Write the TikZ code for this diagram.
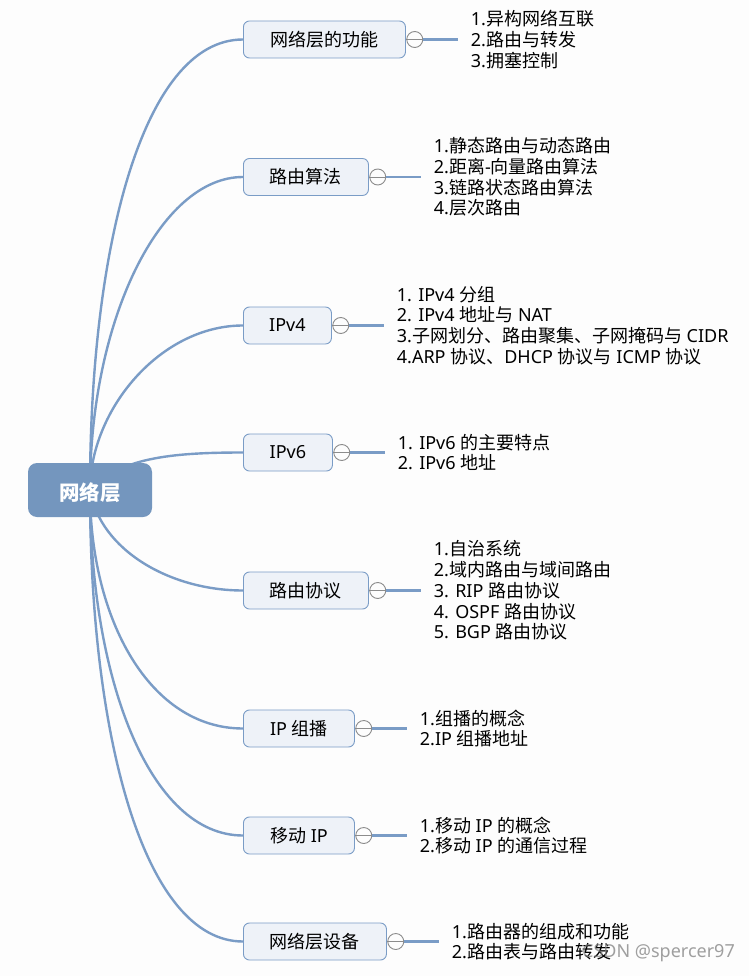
\documentclass[tikz,border=0pt]{standalone}
\usepackage{fontspec}
\setmainfont{Noto Sans CJK SC}
\newfontfamily\enfont{Noto Sans}
\newcommand{\en}[1]{{\enfont #1}}
\usetikzlibrary{positioning,backgrounds}
\definecolor{linkblue}{HTML}{7A9CC6}
\definecolor{rootblue}{HTML}{7496BE}
\definecolor{boxfill}{HTML}{EEF2F8}
\definecolor{paper}{HTML}{FDFDFD}
\definecolor{knob}{HTML}{8C8C8C}
\tikzset{
  topic/.style={draw=linkblue,fill=boxfill,rounded corners=6pt,line width=0.9pt,anchor=west,
    minimum height=37pt,inner sep=0pt,font=\fontsize{18}{20.7}\selectfont},
  knobc/.style={circle,draw=knob,fill=paper,line width=0.9pt,minimum size=16pt,inner sep=0pt,right=0.4pt of #1},
  leaf/.style={align=left,inner xsep=12.5pt,inner ysep=0pt,font=\fontsize{18}{20.7}\selectfont,right=35pt of #1},
  link/.style={linkblue,line width=2.4pt},
  stub/.style={linkblue,line width=2.6pt},
}
\begin{document}
\begin{tikzpicture}[x=1pt,y=-1pt]
\useasboundingbox (0,0) rectangle (749,976);

%topics
\node[topic,minimum width=162pt] (b1) at (243,39.5) {网络层的功能};
\node[topic,minimum width=125pt] (b2) at (243,177) {路由算法};
\node[topic,minimum width=88pt] (b3) at (243,325.5) {\en{IPv4}};
\node[topic,minimum width=89pt] (b4) at (243,452.5) {\en{IPv6}};
\node[topic,minimum width=125pt] (b5) at (243,590.5) {路由协议};
\node[topic,minimum width=111pt] (b6) at (243,728.5) {\en{IP }组播};
\node[topic,minimum width=111pt] (b7) at (243,835.5) {移动\en{ IP}};
\node[topic,minimum width=143pt] (b8) at (243,941.5) {网络层设备};

\node[knobc=b1] (k1) {};
\node[knobc=b2] (k2) {};
\node[knobc=b3] (k3) {};
\node[knobc=b4] (k4) {};
\node[knobc=b5] (k5) {};
\node[knobc=b6] (k6) {};
\node[knobc=b7] (k7) {};
\node[knobc=b8] (k8) {};

%leaves
\node[leaf=k1] (l1) {\en{1.}异构网络互联\\\en{2.}路由与转发\\\en{3.}拥塞控制};
\node[leaf=k2] (l2) {\en{1.}静态路由与动态路由\\\en{2.}距离\en{-}向量路由算法\\\en{3.}链路状态路由算法\\\en{4.}层次路由};
\node[leaf=k3] (l3) {\en{1. IPv4 }分组\\\en{2. IPv4 }地址与\en{ NAT}\\\en{3.}子网划分、路由聚集、子网掩码与\en{ CIDR}\\\en{4.ARP }协议、\en{DHCP }协议与\en{ ICMP }协议};
\node[leaf=k4] (l4) {\en{1. IPv6 }的主要特点\\\en{2. IPv6 }地址};
\node[leaf=k5] (l5) {\en{1.}自治系统\\\en{2.}域内路由与域间路由\\\en{3. RIP }路由协议\\\en{4. OSPF }路由协议\\\en{5. BGP }路由协议};
\node[leaf=k6] (l6) {\en{1.}组播的概念\\\en{2.IP }组播地址};
\node[leaf=k7] (l7) {\en{1.}移动\en{ IP }的概念\\\en{2.}移动\en{ IP }的通信过程};
\node[leaf=k8] (l8) {\en{1.}路由器的组成和功能\\\en{2.}路由表与路由转发};

\node[fill=rootblue,rounded corners=9pt,minimum width=124pt,minimum height=54pt,inner sep=0pt,
  text=white,font=\fontsize{20.5}{24}\selectfont\bfseries] (root) at (90,490) {\raisebox{-3pt}[.88em][.12em]{网络层}};

\begin{scope}[on background layer]
\fill[paper] (0,0) rectangle (749,976);
\draw[link] (root.center) .. controls (90,250) and (142,39.5) .. (b1.west);
\draw[link] (root.center) .. controls (90,320) and (160,177) .. (b2.west);
\draw[link] (root.center) .. controls (90,410) and (160,325.5) .. (b3.west);
\draw[link] (root.center) .. controls (120,458) and (170,452.5) .. (b4.west);
\draw[link] (root.center) .. controls (100,550) and (170,590.5) .. (b5.west);
\draw[link] (root.center) .. controls (90,620) and (150,728.5) .. (b6.west);
\draw[link] (root.center) .. controls (90,680) and (150,835.5) .. (b7.west);
\draw[link] (root.center) .. controls (90,740) and (145,941.5) .. (b8.west);
\end{scope}

%stubs and minus signs
\foreach \i in {1,...,8}{
  \draw[stub] (k\i.east) -- (l\i.west);
  \draw[knob,line width=0.9pt] (k\i.west) -- (k\i.east);
}

\node[text=gray,opacity=0.75,font=\enfont\fontsize{18}{20}\selectfont,anchor=east,inner sep=0pt] (mark) at (735,953) {CSDN @spercer97};
\end{tikzpicture}
\end{document}
